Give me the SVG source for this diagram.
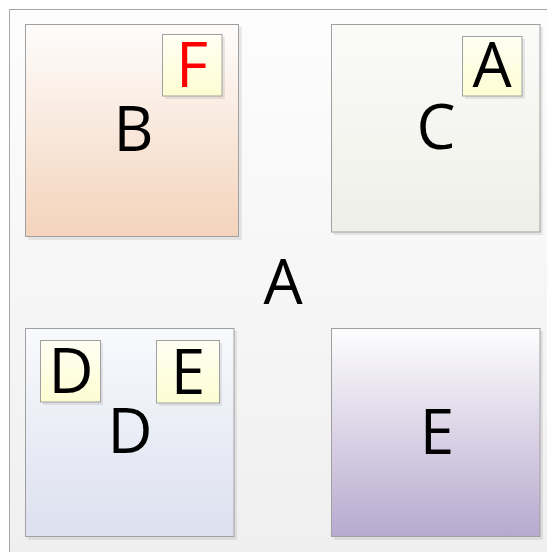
<svg xmlns="http://www.w3.org/2000/svg" width="547" height="552" viewBox="0 0 547 552">
<defs>
<linearGradient id="gCont" x1="0" y1="0" x2="0" y2="1"><stop offset="0" stop-color="#fdfdfd"/><stop offset="1" stop-color="#efefef"/></linearGradient>
<linearGradient id="gB" x1="0" y1="0" x2="0" y2="1"><stop offset="0" stop-color="#fefdfc"/><stop offset="1" stop-color="#f4d3bb"/></linearGradient>
<linearGradient id="gC" x1="0" y1="0" x2="0" y2="1"><stop offset="0" stop-color="#fbfbfa"/><stop offset="1" stop-color="#eef0e7"/></linearGradient>
<linearGradient id="gD" x1="0" y1="0" x2="0" y2="1"><stop offset="0" stop-color="#f9fafd"/><stop offset="1" stop-color="#dce0ef"/></linearGradient>
<linearGradient id="gE" x1="0" y1="0" x2="0" y2="1"><stop offset="0" stop-color="#fefefe"/><stop offset="1" stop-color="#b7aacf"/></linearGradient>
<linearGradient id="gS" x1="0" y1="0" x2="0" y2="1"><stop offset="0" stop-color="#fffff4"/><stop offset="1" stop-color="#fdfdd2"/></linearGradient>
</defs>
<style>
.box{stroke:#a0a0a0;stroke-width:1}
.sh{fill:#000;fill-opacity:0.08}
.lbl{font-family:"Open Sans","Noto Sans",sans-serif;font-size:62px;text-anchor:middle;fill:#000}
.red{fill:#ff0000}
</style>
<g id="A">
<rect x="9.5" y="9.5" width="560" height="560" fill="url(#gCont)" stroke="#a6a6a6"/>
<text class="lbl" x="283" y="304">A</text>
</g>
<g id="B">
<rect class="sh" x="28" y="27" width="214" height="213"/>
<rect class="box" x="25.5" y="24.5" width="213" height="212" fill="url(#gB)"/>
<text class="lbl" x="133.5" y="151">B</text>
</g>
<g id="F">
<rect class="sh" x="165" y="37" width="60" height="62"/>
<rect class="box" x="162.5" y="34.5" width="59.5" height="61.5" fill="url(#gS)"/>
<text class="lbl red" x="192" y="87">F</text>
</g>
<g id="C">
<rect class="sh" x="334" y="27" width="209" height="208"/>
<rect class="box" x="331.5" y="24.5" width="208.5" height="207.5" fill="url(#gC)"/>
<text class="lbl" x="436" y="149">C</text>
</g>
<g id="A2">
<rect class="sh" x="465" y="39" width="60" height="60"/>
<rect class="box" x="462.5" y="36.5" width="59.5" height="59.5" fill="url(#gS)"/>
<text class="lbl" x="492" y="87">A</text>
</g>
<g id="D">
<rect class="sh" x="28" y="331" width="209" height="209"/>
<rect class="box" x="25.5" y="328.5" width="208.5" height="208" fill="url(#gD)"/>
<text class="lbl" x="130" y="453">D</text>
</g>
<g id="D2">
<rect class="sh" x="43" y="343" width="60" height="62"/>
<rect class="box" x="40.5" y="340.5" width="60" height="61.5" fill="url(#gS)"/>
<text class="lbl" x="71" y="393">D</text>
</g>
<g id="E2">
<rect class="sh" x="159" y="343" width="63" height="63"/>
<rect class="box" x="156.5" y="340.5" width="63" height="62.5" fill="url(#gS)"/>
<text class="lbl" x="188" y="394">E</text>
</g>
<g id="E">
<rect class="sh" x="334" y="331" width="209" height="209"/>
<rect class="box" x="331.5" y="328.5" width="208.5" height="208" fill="url(#gE)"/>
<text class="lbl" x="437" y="454">E</text>
</g>
<g id="connectors"/>
</svg>
